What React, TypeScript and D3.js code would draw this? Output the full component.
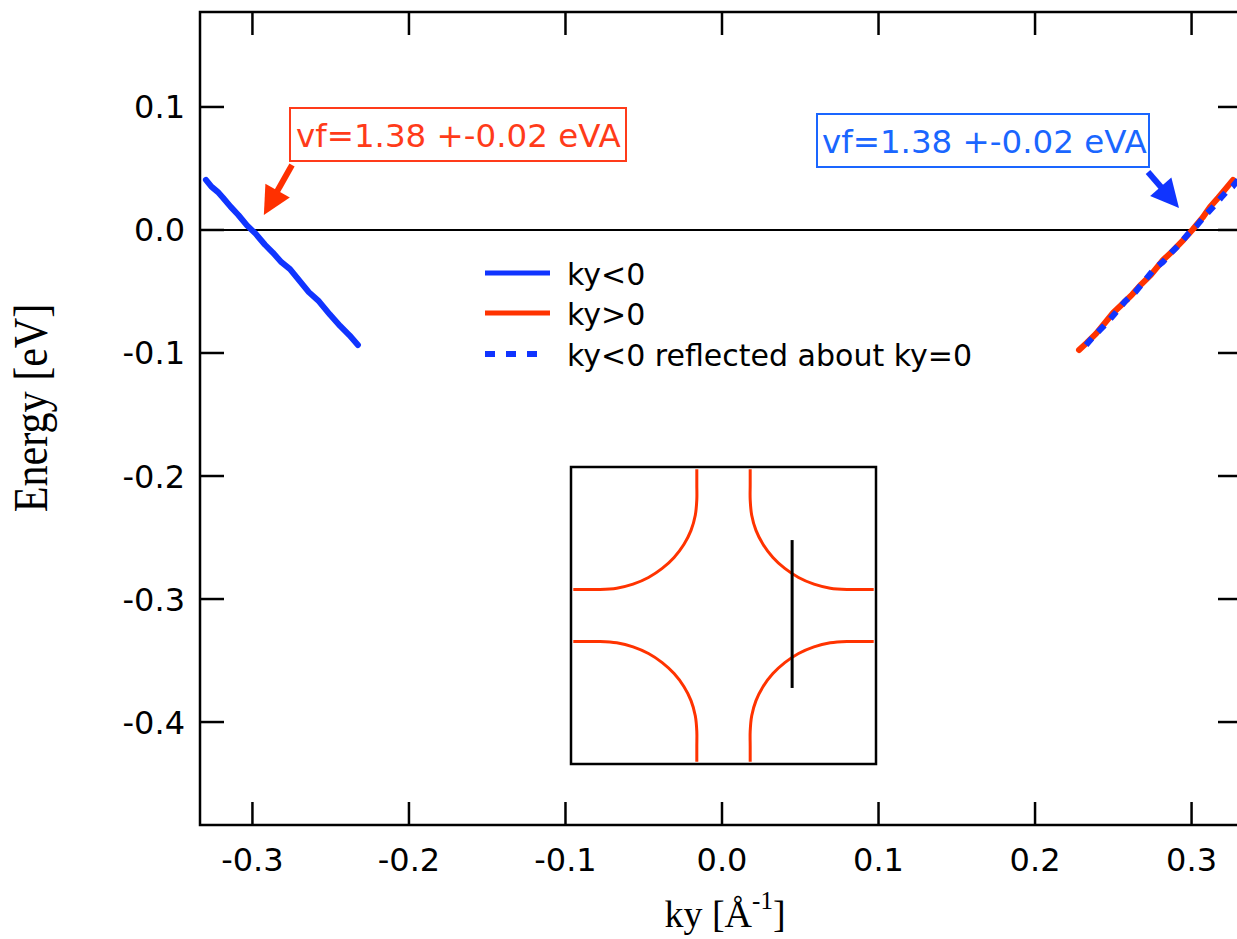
import React from "react";
import * as d3 from "d3";

// ---- data ----
const kyNeg = [-0.3297, -0.3262, -0.3222, -0.3188, -0.314, -0.309, -0.3035, -0.298, -0.292, -0.287, -0.2815, -0.276, -0.27, -0.264, -0.2575, -0.2505, -0.244, -0.238, -0.2326];
const eNeg = [0.0407, 0.0352, 0.031, 0.0262, 0.019, 0.0122, 0.0038, -0.003, -0.012, -0.0184, -0.0262, -0.0318, -0.0412, -0.0505, -0.058, -0.0688, -0.078, -0.0856, -0.0935];
const kyPos = [0.2281, 0.233, 0.239, 0.245, 0.2498, 0.256, 0.262, 0.268, 0.274, 0.2818, 0.288, 0.295, 0.301, 0.307, 0.3118, 0.317, 0.322, 0.3265];
const ePos = [-0.0976, -0.0918, -0.0842, -0.075, -0.0675, -0.06, -0.0525, -0.044, -0.0365, -0.0244, -0.017, -0.0078, 0.0008, 0.01, 0.0187, 0.0262, 0.0338, 0.0407];

const xTicks = [-0.3, -0.2, -0.1, 0.0, 0.1, 0.2, 0.3];
const xTickLabels = ["-0.3", "-0.2", "-0.1", "0.0", "0.1", "0.2", "0.3"];
const yTicks = [0.1, 0.0, -0.1, -0.2, -0.3, -0.4];
const yTickLabels = ["0.1", "0.0", "-0.1", "-0.2", "-0.3", "-0.4"];

const legendLabels = ["ky<0", "ky>0", "ky<0 reflected about ky=0"];
const annotationText = "vf=1.38 +-0.02 eVA";
// arrow tips in data coords (Fermi crossings)
const redArrowTip = [-0.2927, 0.0122];
const blueArrowTip = [0.292, 0.0179];

// inset: quarter Fermi contour (upper-right quadrant) in normalized coords
const insetU = [0.175, 0.175, 0.175, 0.185, 0.213, 0.26, 0.324, 0.402, 0.492, 0.593, 0.7, 0.81, 0.9, 0.985];
const insetV = [0.985, 0.88, 0.78, 0.675, 0.573, 0.478, 0.391, 0.317, 0.256, 0.211, 0.184, 0.175, 0.175, 0.175];
const cutU = [0.45, 0.45];
const cutV = [0.508, -0.488];

const BLUE = "#1034ff";
const RED = "#ff3300";
const ANN_BLUE = "#1a66ff";
const ANN_RED = "#ff3b1a";

const W = 1237, H = 939;
const L = 200, T = 12, B = 825, R = 1244;

export default function App() {
  const x = d3.scaleLinear().domain([-0.3335, 0.3335]).range([L, R]);
  const y = d3.scaleLinear().domain([-0.4837, 0.1772]).range([B, T]);
  const line = d3.line<[number, number]>().x(d => x(d[0])).y(d => y(d[1]));

  const negPts: [number, number][] = kyNeg.map((k, i) => [k, eNeg[i]]);
  const posPts: [number, number][] = kyPos.map((k, i) => [k, ePos[i]]);
  const reflPts: [number, number][] = kyNeg.map((k, i) => [-k, eNeg[i]]);

  // inset scales
  const iu = d3.scaleLinear().domain([-1, 1]).range([571, 876]);
  const iv = d3.scaleLinear().domain([-1, 1]).range([764, 467]);
  const iline = d3.line<[number, number]>().x(d => iu(d[0])).y(d => iv(d[1])).curve(d3.curveCatmullRom.alpha(0.5));
  const quads = [[1, 1], [-1, 1], [1, -1], [-1, -1]];

  const arrow = (tail: [number, number], tip: [number, number], color: string) => {
    const dx = tip[0] - tail[0], dy = tip[1] - tail[1];
    const len = Math.hypot(dx, dy);
    const ux = dx / len, uy = dy / len;
    const hl = 28, hw = 14;
    const bx = tip[0] - hl * ux, by = tip[1] - hl * uy;
    const px = -uy, py = ux;
    const pts = `${tip[0]},${tip[1]} ${bx + hw * px},${by + hw * py} ${bx - hw * px},${by - hw * py}`;
    return (
      <g>
        <line x1={tail[0]} y1={tail[1]} x2={bx + ux * 2} y2={by + uy * 2} stroke={color} strokeWidth={6} />
        <polygon points={pts} fill={color} />
      </g>
    );
  };

  const sans = "'DejaVu Sans', Verdana, sans-serif";
  const serif = "'Liberation Serif', 'Times New Roman', serif";

  return (
    <div style={{ position: "absolute", left: 0, top: 0 }}>
      <svg width={W} height={H} viewBox={`0 0 ${W} ${H}`} style={{ display: "block", background: "#fff" }}>
        <rect width={W} height={H} fill="#fff" />
        {/* frame */}
        <path d={`M${R},${T} H${L} V${B} H${R}`} fill="none" stroke="#000" strokeWidth={2.5} />
        <line x1={R} y1={T} x2={R} y2={B} stroke="#000" strokeWidth={2.5} />
        {/* zero line */}
        <line x1={L} x2={R} y1={y(0)} y2={y(0)} stroke="#000" strokeWidth={2} />
        {/* ticks */}
        {xTicks.map((t, i) => (
          <g key={"xt" + i}>
            <line x1={x(t)} x2={x(t)} y1={B} y2={B - 23} stroke="#000" strokeWidth={2.5} />
            <line x1={x(t)} x2={x(t)} y1={T} y2={T + 23} stroke="#000" strokeWidth={2.5} />
            <text x={x(t)} y={871} textAnchor="middle" fontFamily={sans} fontSize={32} fill="#000">{xTickLabels[i]}</text>
          </g>
        ))}
        {yTicks.map((t, i) => (
          <g key={"yt" + i}>
            <line x1={L} x2={L + 24} y1={y(t)} y2={y(t)} stroke="#000" strokeWidth={2.5} />
            <line x1={R - 26} x2={R} y1={y(t)} y2={y(t)} stroke="#000" strokeWidth={2.5} />
            <text x={185} y={y(t) + 11.5} textAnchor="end" fontFamily={sans} fontSize={32} fill="#000">{yTickLabels[i]}</text>
          </g>
        ))}
        {/* axis titles */}
        <text transform="translate(47,408) rotate(-90) scale(0.86,1)" textAnchor="middle" fontFamily={serif} fontSize={49} fill="#000">Energy [eV]</text>
        <text x={725} y={927} textAnchor="middle" fontFamily={serif} fontSize={38} fill="#000">
          ky [Å<tspan fontSize={25} dy={-18}>-1</tspan><tspan dy={18}>]</tspan>
        </text>

        {/* data */}
        <path d={line(negPts) || ""} fill="none" stroke={BLUE} strokeWidth={6} strokeLinejoin="round" strokeLinecap="round" />
        <path d={line(posPts) || ""} fill="none" stroke={RED} strokeWidth={6} strokeLinejoin="round" strokeLinecap="round" />
        <path d={line(reflPts) || ""} fill="none" stroke={BLUE} strokeWidth={6} strokeDasharray="9,9" />

        {/* annotations */}
        <rect x={290} y={108} width={336} height={53} fill="#fff" stroke={ANN_RED} strokeWidth={2} />
        <text x={296} y={147} fontFamily={sans} fontSize={32.5} fill={ANN_RED}>{annotationText}</text>
        {arrow([292, 165], [x(redArrowTip[0]), y(redArrowTip[1])], "#ff3000")}
        <rect x={817} y={114} width={332} height={53} fill="#fff" stroke={ANN_BLUE} strokeWidth={2} />
        <text x={822} y={153} fontFamily={sans} fontSize={32.5} fill={ANN_BLUE}>{annotationText}</text>
        {arrow([1148, 172], [x(blueArrowTip[0]), y(blueArrowTip[1])], BLUE)}

        {/* legend */}
        <line x1={485} x2={550} y1={273} y2={273} stroke={BLUE} strokeWidth={5} />
        <text x={567} y={285} fontFamily={sans} fontSize={30} fill="#000">{legendLabels[0]}</text>
        <line x1={485} x2={550} y1={313} y2={313} stroke={RED} strokeWidth={5} />
        <text x={567} y={325} fontFamily={sans} fontSize={30} fill="#000">{legendLabels[1]}</text>
        <line x1={485} x2={537} y1={354} y2={354} stroke={BLUE} strokeWidth={6} strokeDasharray="10,11" />
        <text x={567} y={366} fontFamily={sans} fontSize={30} fill="#000">{legendLabels[2]}</text>

        {/* inset */}
        <rect x={571} y={467} width={305} height={297} fill="#fff" stroke="#000" strokeWidth={2.5} />
        {quads.map(([su, sv], qi) => (
          <path key={"q" + qi} d={iline(insetU.map((u, i) => [su * u, sv * insetV[i]] as [number, number])) || ""} fill="none" stroke={RED} strokeWidth={3} />
        ))}
        <line x1={iu(cutU[0])} x2={iu(cutU[1])} y1={iv(cutV[0])} y2={iv(cutV[1])} stroke="#000" strokeWidth={3} />
      </svg>
    </div>
  );
}
